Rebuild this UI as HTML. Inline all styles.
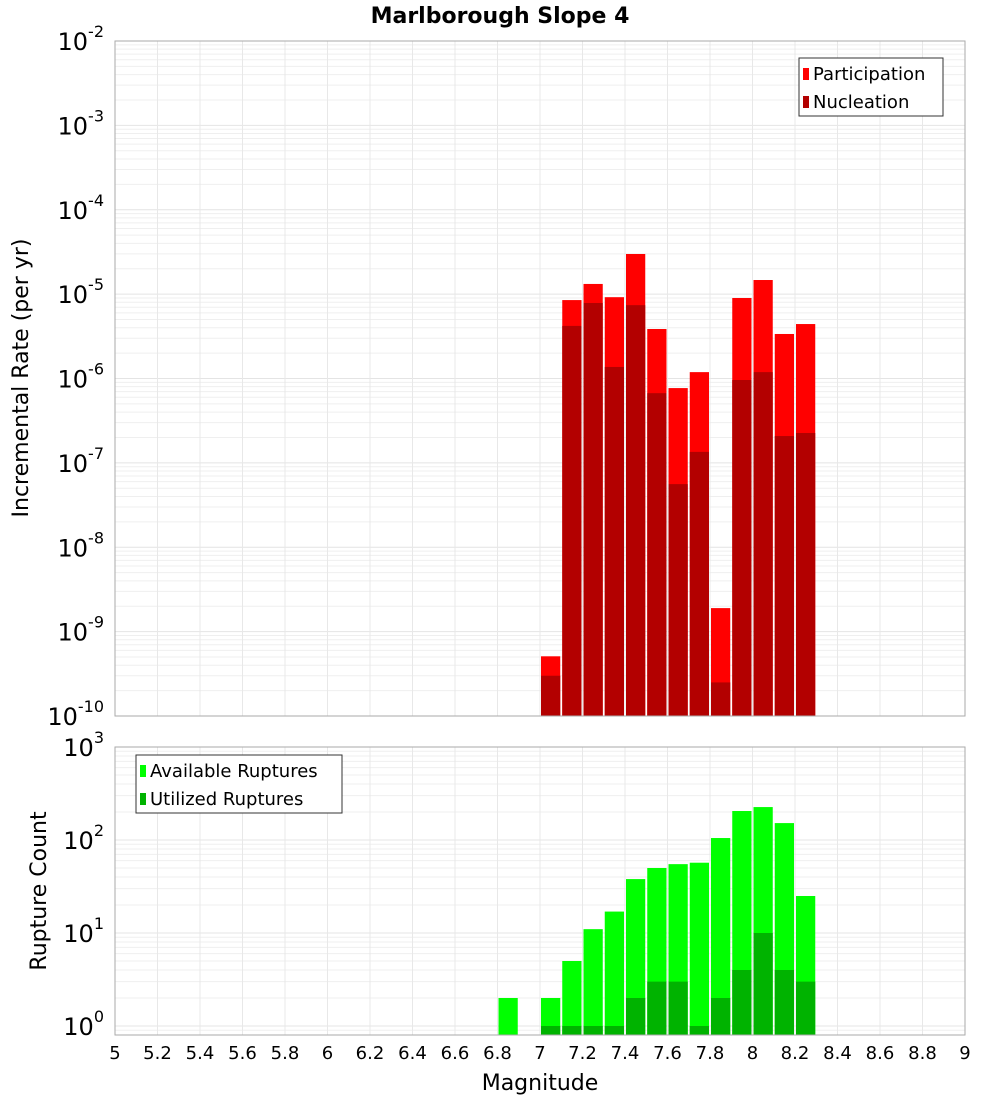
<!DOCTYPE html>
<html><head><meta charset="utf-8"><style>
body{margin:0;background:#fff;font-family:"Liberation Sans","DejaVu Sans",sans-serif}
svg{display:block}
text{font-family:"DejaVu Sans","Liberation Sans",sans-serif}
</style></head><body>
<svg id="c" width="1000" height="1100">
<text x="500" y="23" text-anchor="middle" font-size="22" font-weight="bold">Marlborough Slope 4</text>
<text transform="translate(28,378) rotate(-90)" text-anchor="middle" font-size="22">Incremental Rate (per yr)</text>
<text transform="translate(46,891) rotate(-90)" text-anchor="middle" font-size="22">Rupture Count</text>
<text x="540" y="1090" text-anchor="middle" font-size="22">Magnitude</text>
<g id="topplot"></g>
<g id="botplot"></g>
<g id="xt"></g>
</svg>
<script>
const mags=[7.0,7.1,7.2,7.3,7.4,7.5,7.6,7.7,7.8,7.9,8.0,8.1,8.2];
const participation=[5.1e-10,8.5e-6,1.32e-5,9.2e-6,2.99e-5,3.86e-6,7.7e-7,1.19e-6,1.9e-9,9.0e-6,1.47e-5,3.37e-6,4.42e-6];
const nucleation=[3.0e-10,4.2e-6,7.85e-6,1.37e-6,7.4e-6,6.7e-7,5.6e-8,1.35e-7,2.5e-10,9.6e-7,1.19e-6,2.08e-7,2.26e-7];
const countMags=[6.8,7.0,7.1,7.2,7.3,7.4,7.5,7.6,7.7,7.8,7.9,8.0,8.1,8.2];
const available=[2,2,5,11,17,38,50,55,57,105,205,226,152,25];
const utilized=[0,1,1,1,1,2,3,3,1,2,4,10,4,3];
const xTicks=[5,5.2,5.4,5.6,5.8,6,6.2,6.4,6.6,6.8,7,7.2,7.4,7.6,7.8,8,8.2,8.4,8.6,8.8,9];
const topExp=[-2,-3,-4,-5,-6,-7,-8,-9,-10];
const botExp=[3,2,1,0];

const NS="http://www.w3.org/2000/svg";
const X0=115,X1=965;
const x=m=>X0+(m-5)/4*(X1-X0);
const yTop=v=>41+(-2-Math.log10(v))*84.375;
const yBot=v=>1026-Math.log10(v)*93;
function mk(p,tag,a){const e=document.createElementNS(NS,tag);for(const k in a)e.setAttribute(k,a[k]);p.appendChild(e);return e;}

function panel(g,yt,yb,ys,lo,hi,name){
  for(let e=lo;e<hi;e++)for(let k=1;k<10;k++){const v=k*Math.pow(10,e);const yy=ys(v);if(yy<yt-0.5||yy>yb+0.5)continue;
    const l=mk(g,'line',{x1:X0,x2:X1,y1:yy,y2:yy,stroke:k==1?'#e4e4e4':'#efefef','stroke-width':1});
    
    }
  const yy=ys(Math.pow(10,hi));const l2=mk(g,'line',{x1:X0,x2:X1,y1:yy,y2:yy,stroke:'#e4e4e4'});
  
  
  xTicks.forEach(t=>{const l=mk(g,'line',{x1:x(t),x2:x(t),y1:yt,y2:yb,stroke:'#e8e8e8'});
    
    });
}
function yLabels(g,exps,ys,name){
  exps.forEach(e=>{const t=mk(g,'text',{x:104,y:ys(Math.pow(10,e))+9,'text-anchor':'end','font-size':24});
    
    
    t.textContent='10';const s=mk(t,'tspan',{dy:-13,'font-size':16});s.textContent=String(e);});
}
const topG=document.getElementById('topplot'),botG=document.getElementById('botplot');
panel(topG,41,716,yTop,-10,-2,'rate');
panel(botG,747,1035,yBot,-1,3,'count');
const bw=x(5.1)-x(5)-2;
mags.forEach((m,i)=>{
  const yp=yTop(participation[i]),yn=yTop(nucleation[i]);
  const r=mk(topG,'rect',{x:x(m)+1,y:yp,width:bw,height:716-yp,fill:'#ff0000'});
  
  
  const n=mk(topG,'rect',{x:x(m)+1,y:yn,width:bw,height:716-yn,fill:'#b30000'});
  
  
});
countMags.forEach((m,i)=>{
  const ya=yBot(available[i]);
  const r=mk(botG,'rect',{x:x(m)+1,y:ya,width:bw,height:1035-ya,fill:'#00ff00'});
  
  
  if(utilized[i]>0){const yu=yBot(utilized[i]);
    const u=mk(botG,'rect',{x:x(m)+1,y:yu,width:bw,height:1035-yu,fill:'#00b300'});
    
    }
});
const f1=mk(topG,'rect',{x:X0,y:41,width:X1-X0,height:675,fill:'none',stroke:'#aaa'});


const f2=mk(botG,'rect',{x:X0,y:747,width:X1-X0,height:288,fill:'none',stroke:'#aaa'});


yLabels(topG,topExp,yTop,'rate');yLabels(botG,botExp,yBot,'count');
function legend(g,bx,by,w,items,name){
  const b=mk(g,'rect',{x:bx,y:by,width:w,height:58,fill:'#fff',stroke:'#333'});
  
  
  items.forEach((it,i)=>{
    const s=mk(g,'rect',{x:bx+4,y:by+10+i*28,width:6,height:12,fill:it[1]});
    
    
    const t=mk(g,'text',{x:bx+14,y:by+22+i*28,'font-size':18});
    
    
    t.textContent=it[0];});
}
legend(topG,799,58,144,[['Participation','#ff0000'],['Nucleation','#b30000']],'rate-legend');
legend(botG,136,755,206,[['Available Ruptures','#00ff00'],['Utilized Ruptures','#00b300']],'count-legend');
const xt=document.getElementById('xt');
xTicks.forEach(t=>{const e=mk(xt,'text',{x:x(t),y:1059,'text-anchor':'middle','font-size':18});
  
  
  e.textContent=String(+t.toFixed(1));});
</script>
</body></html>
